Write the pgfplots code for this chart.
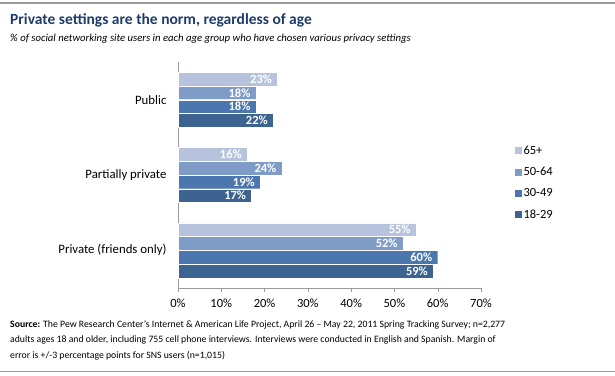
\documentclass[border=0pt]{standalone}
\usepackage{pgfplots}
\pgfplotsset{compat=1.18}
\usepackage{fontspec}
\setmainfont{Carlito}
\definecolor{cA}{HTML}{B7C3DC}
\definecolor{cB}{HTML}{7F9CC7}
\definecolor{cC}{HTML}{4B77AE}
\definecolor{cD}{HTML}{3D6390}
\definecolor{titleblue}{HTML}{1F3B6B}
\definecolor{axgray}{HTML}{9A9A9A}
\begin{document}
\begin{tikzpicture}[x=1pt,y=1pt]
\useasboundingbox (0,0) rectangle (615,375);
\draw[axgray,line width=1.2pt] (0,372) -- (615,372);
\draw[axgray,line width=0.8pt] (0,4) -- (615,4);
\node[anchor=base west,inner sep=0,text=titleblue,font=\fontsize{15.5}{18}\selectfont\bfseries] at (10,350) {Private settings are the norm, regardless of age};
\node[anchor=base west,inner sep=0,font=\fontsize{10.7}{12}\selectfont\itshape] at (10,333) {\% of social networking site users in each age group who have chosen various privacy settings};
\node[anchor=base west,inner sep=0,align=left,font=\fontsize{9.75}{15.5}\selectfont] at (10,17) {\textbf{Source:} The Pew Research Center's Internet \& American Life Project, April 26 -- May 22, 2011 Spring Tracking Survey; n=2,277\\adults ages 18 and older, including 755 cell phone interviews. Interviews were conducted in English and Spanish. Margin of\\error is +/-3 percentage points for SNS users (n=1,015)};
\begin{axis}[
  at={(178pt,87pt)}, anchor=south west,
  scale only axis, width=303pt, height=226pt,
  xbar, bar width=13.6pt,
  xmin=0, xmax=70, ymin=-0.5, ymax=2.5,
  xtick={0,10,...,70},
  xticklabel={\pgfmathprintnumber{\tick}\%},
  /pgf/number format/assume math mode=true,
  ytick={0,1,2},
  yticklabels={Private (friends only),Partially private,Public},
  extra y ticks={-0.5,0.5,1.5,2.5},
  extra y tick labels={},
  extra y tick style={major tick length=3pt, tick style={axgray}},
  y tick style={draw=none},
  x tick style={axgray},
  major tick length=4pt,
  tick align=outside,
  axis x line*=bottom, axis y line*=left,
  axis line style={axgray},
  x tick label style={font=\fontsize{12.5}{14}\selectfont, yshift=-3pt},
  y tick label style={font=\fontsize{12.8}{14}\selectfont, xshift=-4pt},
  nodes near coords={\pgfmathprintnumber{\pgfplotspointmeta}\%},
  nodes near coords style={anchor=east, text=white, font=\fontsize{12.5}{14}\selectfont\bfseries, xshift=-2pt, /pgf/number format/assume math mode=true},
  legend style={at={(1.11,0.465)}, anchor=west, draw=none, fill=none, font=\fontsize{12.5}{14}\selectfont, row sep=7.5pt, inner sep=0pt},
  legend cell align=left,
  legend image code/.code={\fill[#1,draw=none] (0pt,-3.5pt) rectangle (7pt,3.5pt);},
]
\addplot[fill=cA, draw=white, line width=0.4pt, bar shift=20.7pt] coordinates {(55,0) (16,1) (23,2)};
\addplot[fill=cB, draw=white, line width=0.4pt, bar shift=6.9pt] coordinates {(52,0) (24,1) (18,2)};
\addplot[fill=cC, draw=white, line width=0.4pt, bar shift=-6.9pt] coordinates {(60,0) (19,1) (18,2)};
\addplot[fill=cD, draw=white, line width=0.4pt, bar shift=-20.7pt] coordinates {(59,0) (17,1) (22,2)};
\legend{65+,50-64,30-49,18-29}
\end{axis}
\end{tikzpicture}
\end{document}
